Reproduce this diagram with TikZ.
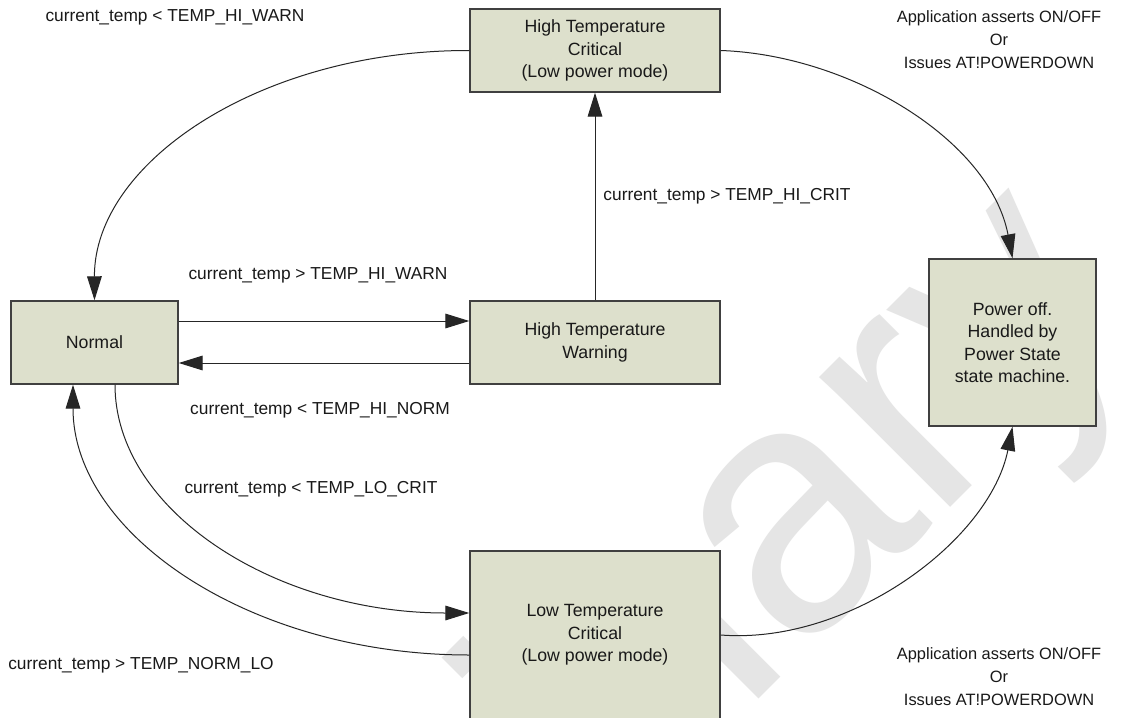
\documentclass[tikz,border=0pt]{standalone}
\usepackage{fontspec}
\setmainfont{Liberation Sans}
\usetikzlibrary{arrows.meta,calc}
\definecolor{boxfill}{RGB}{221,224,204}
\definecolor{boxline}{RGB}{64,64,64}
\begin{document}
\begin{tikzpicture}[x=0.75pt,y=-0.75pt,
  state/.style={draw=boxline, line width=1.1pt, fill=boxfill, align=center,
    font=\fontsize{13.3}{16.9}\selectfont, inner sep=0pt, text=black!90},
  lbl/.style={align=center, font=\fontsize{13}{17.25}\selectfont, inner sep=0pt, text=black!90},
  applbl/.style={lbl, font=\fontsize{12.3}{17.25}\selectfont},
  conn/.style={draw=black!85, line width=0.75pt, -{Triangle[length=18pt,width=11pt]}},
  wmark/.style={rotate=45, anchor=base east, text=black!10, inner sep=0pt,
    font=\fontsize{262}{262}\selectfont}
]
\useasboundingbox (0,0) rectangle (1134,717);
\clip (0,0) rectangle (1134,717);
\fill[white] (0,0) rectangle (1134,717);
\node[wmark] (wm) at (1140,318) {Preliminary};

\node[state, minimum width=187.5pt, minimum height=62.25pt] (crit) at (595,50.5) {High Temperature\\Critical\\(Low power mode)};
\node[state, minimum width=187.5pt, minimum height=62.25pt] (warn) at (595,342.5) {High Temperature\\Warning};
\node[state, minimum width=125.25pt, minimum height=62.25pt] (normal) at (94.5,342.5) {Normal};
\node[state, minimum width=125.25pt, minimum height=125.25pt] (off) at (1012.5,342.5) {Power off.\\Handled by\\Power State\\state machine.};
\node[state, minimum width=187.5pt, minimum height=126pt] (low) at (595,635) {Low Temperature\\Critical\\(Low power mode)};

\draw[conn] (crit.west) .. controls (262,50) and (94,162) .. (normal.north);
\draw[conn] (crit.east) .. controls (850,55) and (990,140) .. (off.north);
\draw[conn] (warn.north) -- (crit.south);
\draw[conn] ($(normal.east)+(0,-21.5)$) -- ($(warn.west)+(0,-21.5)$);
\draw[conn] ($(warn.west)+(0,20.5)$) -- ($(normal.east)+(0,20.5)$);
\draw[conn] ($(normal.south)+(20.5,0)$) .. controls (115,510) and (274,613) .. ($(low.west)+(0,-22)$);
\draw[conn] ($(low.west)+(0,20)$) .. controls (250,655) and (73,534) .. ($(normal.south)+(-21.5,0)$);
\draw[conn] (low.east) .. controls (850,645) and (990,540) .. (off.south);

\node[lbl] (l1) at (175,17) {current\_temp < TEMP\_HI\_WARN};
\node[lbl] (l2) at (727,196) {current\_temp > TEMP\_HI\_CRIT};
\node[lbl] (l3) at (318,275) {current\_temp > TEMP\_HI\_WARN};
\node[lbl] (l4) at (320,410) {current\_temp < TEMP\_HI\_NORM};
\node[lbl] (l5) at (311,489) {current\_temp < TEMP\_LO\_CRIT};
\node[lbl] (l6) at (141,665) {current\_temp > TEMP\_NORM\_LO};
\node[applbl] (l7) at (999,40) {Application asserts ON/OFF\\Or\\Issues AT!POWERDOWN};
\node[applbl] (l8) at (999,677) {Application asserts ON/OFF\\Or\\Issues AT!POWERDOWN};
\end{tikzpicture}
\end{document}
